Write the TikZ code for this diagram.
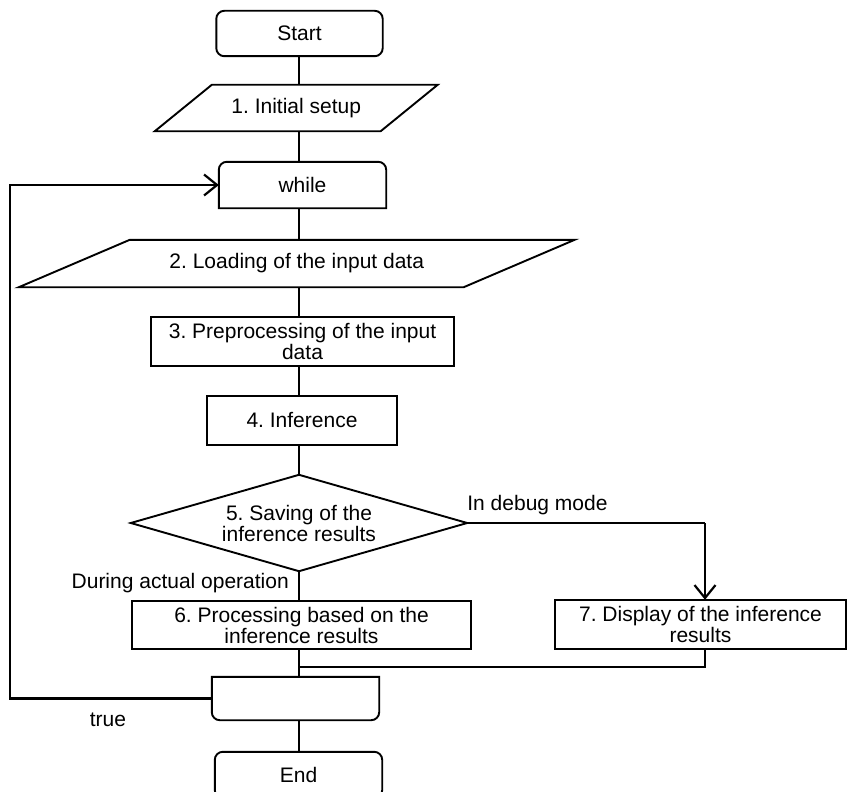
\documentclass[tikz,border=0pt]{standalone}
\usepackage{fontspec}
\setmainfont{Liberation Sans}
\usetikzlibrary{arrows.meta}
\frenchspacing
\begin{document}
\begin{tikzpicture}[x=1pt,y=1pt,
  every node/.style={font=\fontsize{21}{21}\selectfont, inner sep=0pt},
  slot/.style 2 args={minimum width=#1pt, minimum height=#2pt, align=center},
  outline/.style={line width=1.9pt},
  flow/.style={line width=1.3pt},
  heavy/.style={line width=2.2pt},
  tip/.style={-{Straight Barb[length=13pt,width=21pt,line width=2.2pt]}},
  lbl/.style={font=\fontsize{21}{21}\selectfont},
]
\useasboundingbox (0,0) rectangle (847,-792);
\clip (0,0) rectangle (847,-792);
\fill[white] (0,0) rectangle (847,-792);

% column guides
\coordinate (spine) at (299,0);
\coordinate (loopx) at (10,0);
\coordinate (debugx) at (705,0);
\coordinate (merge) at (0,-667);

% nodes
\node[slot={166}{45}] (start) at (299.5,-33.5) {Start};
\node[slot={225.5}{46}] (init) at (296.25,-108) {1. Initial setup};
\node[slot={167}{46}] (while) at (302.5,-185) {while};
\node[slot={444.5}{47}] (load) at (296.75,-263.5) {2. Loading of the input data};
\node[slot={303}{49}] (prep) at (302.5,-341.5) {3. Preprocessing of the input\\data};
\node[slot={190}{49}] (infer) at (302,-420.5) {4. Inference};
\node[slot={336}{96}] (save) at (299,-523) {5. Saving of the\\inference results};
\node[slot={339}{48}] (proc) at (301.5,-625) {6. Processing based on the\\inference results};
\node[slot={291}{49}] (disp) at (700.5,-624.5) {7. Display of the inference\\results};
\node[slot={167}{43}] (loopend) at (295.5,-698.5) {};
\node[slot={167}{46}] (end) at (298.5,-775) {End};

% outlines
\draw[outline, rounded corners=8pt] (start.south west) rectangle (start.north east);
\draw[outline] ([xshift=-28.5pt]init.south west) -- ([xshift=-28.5pt]init.south east)
  -- ([xshift=28.5pt]init.north east) -- ([xshift=28.5pt]init.north west) -- cycle;
\draw[outline] (while.south west) -- ([yshift=-8pt]while.north west)
  arc[start angle=180,end angle=90,radius=8pt] -- ([xshift=-8pt]while.north east)
  arc[start angle=90,end angle=0,radius=8pt] -- (while.south east) -- cycle;
\draw[outline] ([xshift=-55.5pt]load.south west) -- ([xshift=-55.5pt]load.south east)
  -- ([xshift=55.5pt]load.north east) -- ([xshift=55.5pt]load.north west) -- cycle;
\draw[outline] (prep.south west) rectangle (prep.north east);
\draw[outline] (infer.south west) rectangle (infer.north east);
\draw[outline] (save.north) -- (save.east) -- (save.south) -- (save.west) -- cycle;
\draw[outline] (proc.south west) rectangle (proc.north east);
\draw[outline] (disp.south west) rectangle (disp.north east);
\draw[outline] (loopend.north west) -- ([yshift=8pt]loopend.south west)
  arc[start angle=180,end angle=270,radius=8pt] -- ([xshift=-8pt]loopend.south east)
  arc[start angle=270,end angle=360,radius=8pt] -- (loopend.north east) -- cycle;
\draw[outline, rounded corners=8pt] (end.south west) rectangle (end.north east);

% main flow
\draw[flow] (spine |- start.south) -- (spine |- init.north);
\draw[flow] (spine |- init.south) -- (spine |- while.north);
\draw[flow] (spine |- while.south) -- (spine |- load.north);
\draw[flow] (spine |- load.south) -- (spine |- prep.north);
\draw[flow] (spine |- prep.south) -- (spine |- infer.north);
\draw[flow] (spine |- infer.south) -- (save.north);
\draw[flow] (save.south) -- (spine |- proc.north);
\draw[heavy] (spine |- proc.south) -- (spine |- loopend.north);
\draw[flow] (spine |- loopend.south) -- (spine |- end.north);

% debug branch and merge
\draw[flow] (save.east) -- (debugx |- save.east);
\draw[heavy, tip] (debugx |- save.east) -- (debugx |- disp.north);
\draw[heavy] (debugx |- disp.south) -- (debugx |- merge) -- (spine |- merge);

% loop back
\draw[heavy, tip] (loopend.west) -- (loopx |- loopend.west) -- (loopx |- while.west) -- (while.west);

% labels
\node[lbl, anchor=west] (dbg) at ([yshift=18pt]save.east) {In debug mode};
\node[lbl, anchor=east] (ops) at (289,-583) {During actual operation};
\node[lbl] (tru) at (108,-720) {true};
\end{tikzpicture}
\end{document}
